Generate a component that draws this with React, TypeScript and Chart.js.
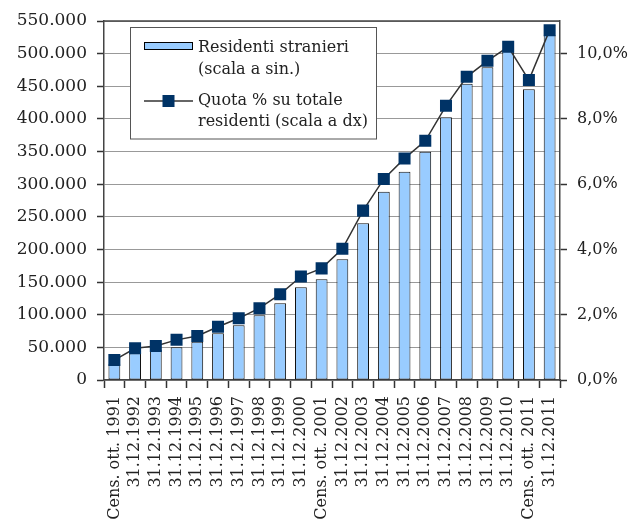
import React, { useEffect, useRef } from 'react';
import { Chart, registerables } from 'chart.js';

Chart.register(...registerables);

const categories = [
  'Cens. ott. 1991', '31.12.1992', '31.12.1993', '31.12.1994', '31.12.1995',
  '31.12.1996', '31.12.1997', '31.12.1998', '31.12.1999', '31.12.2000',
  'Cens. ott. 2001', '31.12.2002', '31.12.2003', '31.12.2004', '31.12.2005',
  '31.12.2006', '31.12.2007', '31.12.2008', '31.12.2009', '31.12.2010',
  'Cens. ott. 2011', '31.12.2011',
];

const residents = [
  25000, 40900, 46400, 50000, 58700, 71500, 83800, 99100, 117500, 142000,
  154200, 185000, 240000, 288500, 319100, 349800, 402400, 454000, 479000, 504500,
  445300, 528500,
];

const sharePct = [
  0.61, 0.97, 1.04, 1.23, 1.35, 1.63, 1.89, 2.2, 2.63, 3.17,
  3.42, 4.02, 5.19, 6.16, 6.79, 7.33, 8.4, 9.29, 9.78, 10.21,
  9.19, 10.72,
];

const legendLines = [
  ['Residenti stranieri', '(scala a sin.)'],
  ['Quota % su totale', 'residenti (scala a dx)'],
];

const FONT = 'DejaVu Serif';

function fmtThousands(v: number): string {
  return String(Math.round(v)).replace(/\B(?=(\d{3})+(?!\d))/g, '.');
}

export default function App() {
  const ref = useRef<HTMLCanvasElement | null>(null);

  useEffect(() => {
    document.body.style.margin = '0';
    const canvas = ref.current;
    if (!canvas) return;

    const overlay = {
      id: 'overlay',
      afterDraw(chart: any) {
        const ctx = chart.ctx;
        const a = chart.chartArea;
        ctx.save();
        ctx.strokeStyle = '#444';
        ctx.lineWidth = 1.5;
        ctx.beginPath();
        ctx.moveTo(a.left, a.top);
        ctx.lineTo(a.right, a.top);
        ctx.stroke();

        const bx = 130.5, by = 27.5, bw = 246, bh = 111.5;
        ctx.fillStyle = '#fff';
        ctx.fillRect(bx, by, bw, bh);
        ctx.strokeStyle = '#555';
        ctx.lineWidth = 1;
        ctx.strokeRect(bx, by, bw, bh);

        ctx.fillStyle = '#99ccff';
        ctx.fillRect(144.5, 42.5, 48, 7);
        ctx.strokeStyle = '#000';
        ctx.strokeRect(144.5, 42.5, 48, 7);

        ctx.strokeStyle = '#333';
        ctx.lineWidth = 1.5;
        ctx.beginPath();
        ctx.moveTo(144, 101);
        ctx.lineTo(193, 101);
        ctx.stroke();
        ctx.fillStyle = '#003366';
        ctx.fillRect(162.5, 95, 12, 12);

        ctx.fillStyle = '#222';
        ctx.font = `16px "${FONT}"`;
        ctx.textAlign = 'left';
        ctx.textBaseline = 'alphabetic';
        ctx.fillText(legendLines[0][0], 198, 52);
        ctx.fillText(legendLines[0][1], 198, 74);
        ctx.fillText(legendLines[1][0], 198, 105);
        ctx.fillText(legendLines[1][1], 198, 126);
        ctx.restore();
      },
    };

    const chart = new Chart(canvas, {
      type: 'bar',
      data: {
        labels: categories,
        datasets: [
          {
            type: 'line',
            label: legendLines[1].join(' '),
            data: sharePct,
            yAxisID: 'y1',
            borderColor: '#333',
            borderWidth: 1.5,
            pointStyle: 'rect',
            pointRadius: 8.5,
            pointBackgroundColor: '#003366',
            pointBorderColor: '#003366',
            pointBorderWidth: 0,
            tension: 0,
            order: 0,
          } as any,
          {
            type: 'bar',
            label: legendLines[0].join(' '),
            data: residents,
            yAxisID: 'y',
            backgroundColor: '#99ccff',
            borderColor: '#111',
            borderWidth: 1,
            borderSkipped: false,
            barPercentage: 0.57,
            categoryPercentage: 1,
            order: 1,
          },
        ],
      },
      options: {
        responsive: false,
        animation: false,
        devicePixelRatio: 1,
        layout: { padding: { top: 21, left: 0, right: 0, bottom: 0 } },
        plugins: {
          legend: { display: false },
          title: { display: false },
          tooltip: { enabled: false },
        },
        font: { family: FONT },
        scales: {
          x: {
            offset: true,
            grid: {
              display: true,
              drawOnChartArea: false,
              offset: true,
              tickLength: 8,
              tickColor: '#333',
              tickWidth: 1.5,
            },
            border: { color: '#444', width: 1.5 },
            ticks: {
              autoSkip: false,
              maxRotation: 90,
              minRotation: 90,
              padding: 8,
              color: '#222',
              font: { family: FONT, size: 16 },
            },
            afterFit: (s: any) => { s.height = 144; },
          },
          y: {
            position: 'left',
            min: 0,
            max: 550000,
            grid: {
              color: '#999',
              lineWidth: 1,
              tickLength: 7,
              tickColor: '#333',
              tickWidth: 1.5,
            },
            border: { color: '#444', width: 1.5 },
            ticks: {
              stepSize: 50000,
              padding: 10,
              color: '#222',
              font: { family: FONT, size: 17 },
              callback: (v: any) => fmtThousands(Number(v)),
            },
            afterFit: (s: any) => { s.width = 104; },
          },
          y1: {
            position: 'right',
            min: 0,
            max: 11,
            grid: {
              drawOnChartArea: false,
              tickLength: 7,
              tickColor: '#333',
              tickWidth: 1.5,
            },
            border: { color: '#444', width: 1.5 },
            ticks: {
              stepSize: 2,
              includeBounds: false,
              padding: 10,
              color: '#222',
              font: { family: FONT, size: 16 },
              callback: (v: any) => Number(v).toFixed(1).replace('.', ',') + '%',
            },
            afterFit: (s: any) => { s.width = 70; },
          },
        },
      },
      plugins: [overlay],
    } as any);

    return () => chart.destroy();
  }, []);

  return (
    <div style={{ width: 630, height: 524, background: '#fff' }}>
      <canvas ref={ref} width={630} height={524} style={{ display: 'block' }} />
    </div>
  );
}
